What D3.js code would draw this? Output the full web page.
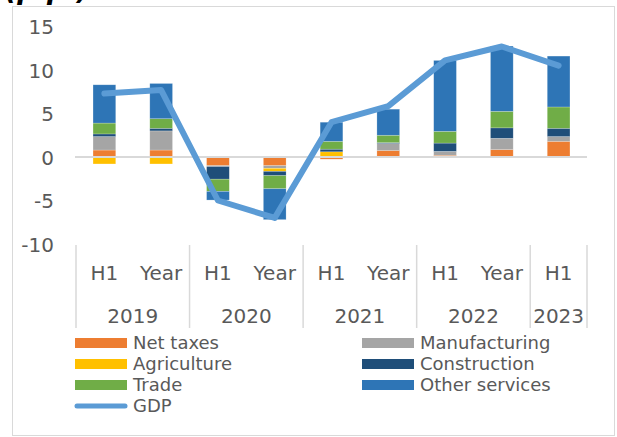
<!DOCTYPE html>
<html>
<head>
<meta charset="utf-8">
<script src="https://cdn.jsdelivr.net/npm/d3@7"></script>
<style>
  html, body { margin: 0; padding: 0; background: #fff; }
  svg { display: block; }
  text { font-family: "DejaVu Sans", Verdana, sans-serif; fill: #595959; }
</style>
</head>
<body>
<svg id="chart" width="617" height="437"></svg>
<script>
// Contributions to GDP growth, percentage points
const categories = ["H1", "Year", "H1", "Year", "H1", "Year", "H1", "Year", "H1"];
const years = ["2019", "2019", "2020", "2020", "2021", "2021", "2022", "2022", "2023"];
const yearGroups = ["2019", "2020", "2021", "2022", "2023"];

const netTaxes      = [0.8, 0.8, -1.0, -1.0, -0.25, 0.75, 0.2, 0.85, 1.8];
const manufacturing = [1.55, 2.2, -0.1, -0.3, 0, 0.8, 0.45, 1.3, 0.55];
const agriculture   = [-0.8, -0.8, 0, -0.35, 0.6, 0, 0, 0, 0];
const construction  = [0.3, 0.3, -1.45, -0.5, 0.3, 0.1, 0.95, 1.2, 0.95];
const trade         = [1.25, 1.1, -1.4, -1.5, 0.9, 0.85, 1.35, 1.9, 2.45];
const otherServices = [4.4, 4.05, -1.0, -3.55, 2.2, 3.0, 8.15, 7.5, 5.85];
const gdp           = [7.3, 7.7, -5.0, -7.0, 4.0, 5.85, 11.1, 12.7, 10.5];

const yTicks = [-10, -5, 0, 5, 10, 15];

const seriesNames = ["Net taxes", "Manufacturing", "Agriculture", "Construction", "Trade", "Other services"];
const seriesValues = [netTaxes, manufacturing, agriculture, construction, trade, otherServices];
const seriesColors = ["#ed7d31", "#a5a5a5", "#ffc000", "#1f4e79", "#70ad47", "#2e75b6"];
const gdpColor = "#5b9bd5";

const svg = d3.select("#chart");

// chart frame
svg.append("rect")
  .attr("x", 12.5).attr("y", 6.5)
  .attr("width", 602).attr("height", 429)
  .attr("fill", "none").attr("stroke", "#d9d9d9").attr("stroke-width", 1);

// unit label at the top, partly outside the frame
svg.append("text")
  .attr("x", 5).attr("y", -1)
  .style("font-size", "27px").style("font-weight", "bold").style("font-style", "italic")
  .style("fill", "#000")
  .text("(p.p.)");

const plotLeft = 76, plotRight = 587, plotTop = 26.5, plotBottom = 244;

const idx = d3.range(categories.length);
const x = d3.scaleBand()
  .domain(idx)
  .range([plotLeft, plotRight])
  .paddingInner(0.6)
  .paddingOuter(0.3);

const y = d3.scaleLinear().domain([-10, 15]).range([plotBottom, plotTop]);

// y axis labels (plain hyphen for negatives)
const yAxis = d3.axisLeft(y).tickValues(yTicks).tickSize(0).tickPadding(0).tickFormat(d => String(d));
const yg = svg.append("g").attr("transform", "translate(54,0)").call(yAxis);
yg.select(".domain").remove();
yg.selectAll("text").style("font-size", "20px").style("fill", "#595959")
  .attr("font-family", null).attr("dy", "0.35em");

// stacked contributions
const rows = idx.map(i => {
  const r = { i };
  seriesNames.forEach((n, k) => { r[n] = seriesValues[k][i]; });
  return r;
});
const stack = d3.stack().keys(seriesNames).offset(d3.stackOffsetDiverging);
const stacked = stack(rows);

stacked.forEach((layer, k) => {
  svg.append("g").selectAll("rect")
    .data(layer)
    .join("rect")
    .attr("x", d => x(d.data.i))
    .attr("width", x.bandwidth())
    .attr("y", d => y(Math.max(d[0], d[1])))
    .attr("height", d => Math.abs(y(d[0]) - y(d[1])))
    .attr("fill", seriesColors[k])
    .attr("stroke", "#ffffff").attr("stroke-opacity", 0.35).attr("stroke-width", 0.6);
});

// zero line
svg.append("line")
  .attr("x1", plotLeft - 1).attr("x2", plotRight)
  .attr("y1", y(0)).attr("y2", y(0))
  .attr("stroke", "#d9d9d9").attr("stroke-width", 2);

// GDP line
const line = d3.line()
  .x((d, i) => x(i) + x.bandwidth() / 2)
  .y(d => y(d));
svg.append("path")
  .datum(gdp)
  .attr("d", line)
  .attr("fill", "none")
  .attr("stroke", gdpColor)
  .attr("stroke-width", 6)
  .attr("stroke-linejoin", "round")
  .attr("stroke-linecap", "round");

// category axis: period labels, year labels and group dividers
const step = x.step();
const catY = 273, yearY = 316;
svg.append("g").selectAll("text")
  .data(idx)
  .join("text")
  .attr("x", i => x(i) + x.bandwidth() / 2)
  .attr("y", catY)
  .attr("dy", "0.35em")
  .attr("text-anchor", "middle")
  .style("font-size", "20px")
  .text(i => categories[i]);

const groups = yearGroups.map(g => {
  const members = idx.filter(i => years[i] === g);
  const start = plotLeft + d3.min(members) * step;
  const end = plotLeft + (d3.max(members) + 1) * step;
  return { g, start, end };
});

svg.append("g").selectAll("text")
  .data(groups)
  .join("text")
  .attr("x", d => (d.start + d.end) / 2)
  .attr("y", yearY)
  .attr("dy", "0.35em")
  .attr("text-anchor", "middle")
  .style("font-size", "20px")
  .text(d => d.g);

const dividers = [groups[0].start].concat(groups.map(d => d.end));
svg.append("g").selectAll("line")
  .data(dividers)
  .join("line")
  .attr("x1", d => d).attr("x2", d => d)
  .attr("y1", plotBottom + 1).attr("y2", 328)
  .attr("stroke", "#d9d9d9").attr("stroke-width", 1.5);

// legend
const legendItems = seriesNames.map((n, k) => ({ name: n, color: seriesColors[k], type: "bar" }))
  .concat([{ name: "GDP", color: gdpColor, type: "line" }]);
const colX = [75, 362];
const rowY = [343, 364, 385, 406];
const lg = svg.append("g");
legendItems.forEach((d, k) => {
  const cx = colX[k % 2];
  const cy = rowY[Math.floor(k / 2)];
  if (d.type === "bar") {
    lg.append("rect")
      .attr("x", cx).attr("y", cy - 5)
      .attr("width", 52).attr("height", 10)
      .attr("fill", d.color);
  } else {
    lg.append("line")
      .attr("x1", cx + 2).attr("x2", cx + 50)
      .attr("y1", cy).attr("y2", cy)
      .attr("stroke", d.color).attr("stroke-width", 5)
      .attr("stroke-linecap", "round");
  }
  lg.append("text")
    .attr("x", cx + 58).attr("y", cy)
    .attr("dy", "0.35em")
    .style("font-size", "18px")
    .text(d.name);
});
</script>
</body>
</html>
